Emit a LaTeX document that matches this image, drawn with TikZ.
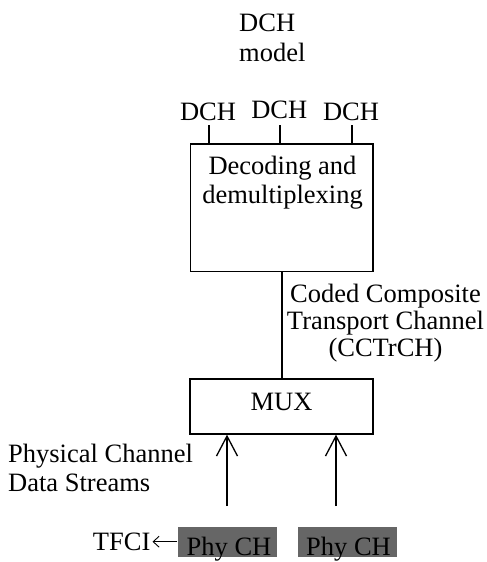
\documentclass[tikz,border=0pt]{standalone}
\usepackage{fontspec}
\setmainfont{Liberation Serif}
\usetikzlibrary{arrows.meta}
\begin{document}
\begin{tikzpicture}[x=1pt,y=-1pt,
  every node/.style={inner sep=0pt,font=\fontsize{26.5pt}{28.5pt}\selectfont},
  box/.style={draw,line width=1.3pt,minimum width=#1},
  txt/.style={anchor=base,align=center},
  phybox/.style={fill={rgb,255:red,102;green,102;blue,102},minimum width=99pt,minimum height=29.4pt},
  line/.style={line width=1.3pt},
  uparrow/.style={line width=1.3pt,-{Straight Barb[length=20pt,width=21pt,line width=1.3pt]}}]
\useasboundingbox (0,0) rectangle (487,562);
% title (base = last line)
\node[anchor=base west,align=left] (title) at (239,61.7) {DCH\\[1.5pt]model};
% decoding box
\node[box=182.3pt,minimum height=127.7pt] (dec) at (281.85,207.85) {};
\node[txt] (dectext) at (282.5,203) {Decoding and\\demultiplexing};
% DCH labels
\node[anchor=base] (dch1) at (208,120.7) {DCH};
\node[anchor=base] (dch2) at (279.3,118.3) {DCH};
\node[anchor=base] (dch3) at (351,120.7) {DCH};
\draw[line] ([xshift=1pt,yshift=-4.3pt]dch1.base) -- ([xshift=1pt]dch1.base |- dec.north);
\draw[line] ([xshift=0.7pt,yshift=-6.7pt]dch2.base) -- ([xshift=0.7pt]dch2.base |- dec.north);
\draw[line] ([xshift=1pt,yshift=-4.3pt]dch3.base) -- ([xshift=1pt]dch3.base |- dec.north);
% MUX box
\node[box=183pt,minimum height=55pt] (mux) at (281.5,406.5) {};
\node[anchor=base] (muxtext) at (281.5,410) {MUX};
\draw[line] (dec.south) -- (dec.south |- mux.north);
% CCTrCH label
\node[txt] (cc) at (385.5,356) {Coded Composite\\[-1.5pt]Transport Channel\\[-1.5pt](CCTrCH)};
% physical channel label
\node[anchor=base west,align=left] (pc) at (8,491.7) {Physical Channel\\[1.2pt]Data Streams};
% arrows
\coordinate (a1) at (227,506);
\coordinate (a2) at (336,506);
\draw[uparrow] (a1) -- (a1 |- mux.south);
\draw[uparrow] (a2) -- (a2 |- mux.south);
% Phy CH boxes
\node[phybox] (p1) at (227,542) {};
\node[phybox] (p2) at (347.2,542) {};
\node[anchor=base] (p1t) at (229,555.5) {Phy CH};
\node[anchor=base] (p2t) at (348.5,555.5) {Phy CH};
% TFCI
\node[anchor=base west] (tfci) at (92.7,550) {TFCI};
\draw[line width=0.9pt,-{Straight Barb[length=6pt,width=11pt,line width=0.9pt]}] (p1.west |- 0,541.7) -- (152.5,541.7);
\end{tikzpicture}
\end{document}
